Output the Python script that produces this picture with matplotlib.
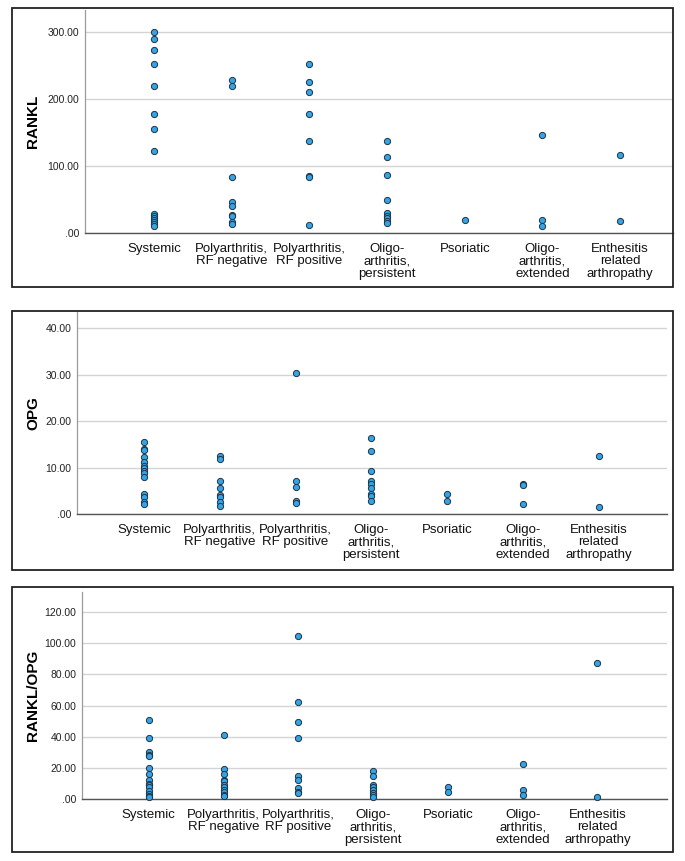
import numpy as np
import matplotlib.pyplot as plt
from matplotlib.patches import Rectangle

plt.rcParams['font.family'] = ['Liberation Sans', 'DejaVu Sans']

categories = ["Systemic", "Polyarthritis,\nRF negative", "Polyarthritis,\nRF positive",
              "Oligo-\narthritis,\npersistent", "Psoriatic", "Oligo-\narthritis,\nextended",
              "Enthesitis\nrelated\narthropathy"]

# RANKL values per category
rankl = [
    [300, 290, 273, 252, 219, 177, 155, 123, 29, 26, 22, 20, 17, 14, 11],
    [228, 219, 83, 47, 40, 27, 25, 17, 14],
    [252, 226, 210, 177, 138, 85, 83, 12],
    [138, 113, 86, 49, 30, 26, 22, 18, 15],
    [19],
    [146, 19, 11],
    [117, 18],
]

# OPG values per category
opg = [
    [15.6, 14.0, 13.8, 12.2, 11.2, 10.4, 9.9, 9.3, 8.8, 8.0, 4.2, 3.6, 2.6, 2.2],
    [12.5, 11.8, 7.0, 5.6, 4.0, 3.7, 2.5, 1.8],
    [30.3, 7.0, 5.8, 2.9, 2.4],
    [16.3, 13.6, 9.3, 7.0, 6.5, 5.7, 4.3, 3.8, 2.7],
    [4.3, 2.9],
    [6.5, 6.3, 2.2],
    [12.4, 1.5],
]

# RANKL/OPG ratio per category
ratio = [
    [50.5, 39.4, 29.9, 28.4, 27.4, 19.9, 16.0, 12.4, 9.6, 8.8, 7.7, 4.9, 3.4, 1.7, 1.1],
    [41.1, 19.0, 16.0, 12.4, 11.3, 9.2, 7.7, 6.0, 4.5, 2.8, 2.1],
    [105.0, 62.5, 49.4, 39.1, 15.0, 12.4, 7.0, 4.5, 3.9],
    [17.8, 15.0, 9.2, 7.7, 6.0, 3.9, 2.4, 1.3],
    [7.7, 4.5],
    [22.5, 6.0, 2.8],
    [87.3, 1.3],
]

W, H = 685, 861
fig = plt.figure(figsize=(W / 100, H / 100), dpi=100)

def px_axes(left, top, right, bottom):
    return fig.add_axes([left / W, 1 - bottom / H, (right - left) / W, (bottom - top) / H])

def frame(left, top, right, bottom):
    fig.patches.append(Rectangle((left / W, 1 - bottom / H), (right - left) / W, (bottom - top) / H,
                                 transform=fig.transFigure, fill=False, edgecolor="#222222",
                                 linewidth=1.3))

panels = [
    # data, label, yticks, ylim, axes box (l, t, r, b), xlim, frame box
    (rankl, "RANKL", [0, 100, 200, 300], 333, (85, 10, 673, 233), (-0.888, 6.68), (12, 8, 673, 287)),
    (opg, "OPG", [0, 10, 20, 30, 40], 43.5, (77, 312, 667, 514), (-0.884, 6.9), (12, 311, 673, 570)),
    (ratio, "RANKL/OPG", [0, 20, 40, 60, 80, 100, 120], 133, (82, 592, 667, 799), (-0.893, 6.93), (12, 587, 673, 852)),
]

for data, label, yticks, ytop, box, xlim, fbox in panels:
    frame(*fbox)
    ax = px_axes(*box)
    for i, vals in enumerate(data):
        ax.scatter(np.full(len(vals), i), vals, s=20, color="#34a4e6",
                   edgecolors="#1d3346", linewidths=0.7, zorder=3, clip_on=False)
    ax.set_xlim(*xlim)
    ax.set_ylim(0, ytop)
    ax.set_yticks(yticks)
    ax.set_yticklabels([".00" if v == 0 else f"{v:.2f}" for v in yticks], fontsize=7.5, color="#222222")
    ax.set_xticks(range(len(categories)))
    ax.set_xticklabels(categories, fontsize=9.5, color="#111111", linespacing=1.05)
    ax.tick_params(axis="x", length=0, pad=7)
    ax.tick_params(axis="y", length=0, pad=4)
    ax.yaxis.grid(True, color="#d4d4d4", linewidth=1.0)
    ax.set_axisbelow(True)
    for s in ["top", "right"]:
        ax.spines[s].set_visible(False)
    ax.spines["left"].set_color("#9a9a9a")
    ax.spines["bottom"].set_color("#555555")
    ax.spines["left"].set_linewidth(0.9)
    ax.spines["bottom"].set_linewidth(1.0)
    ax.set_ylabel(label, fontsize=11, fontweight="bold")
    ax.yaxis.set_label_coords((40 - box[0]) / (box[2] - box[0]), 0.5)

fig.savefig("out.png", dpi=100)
